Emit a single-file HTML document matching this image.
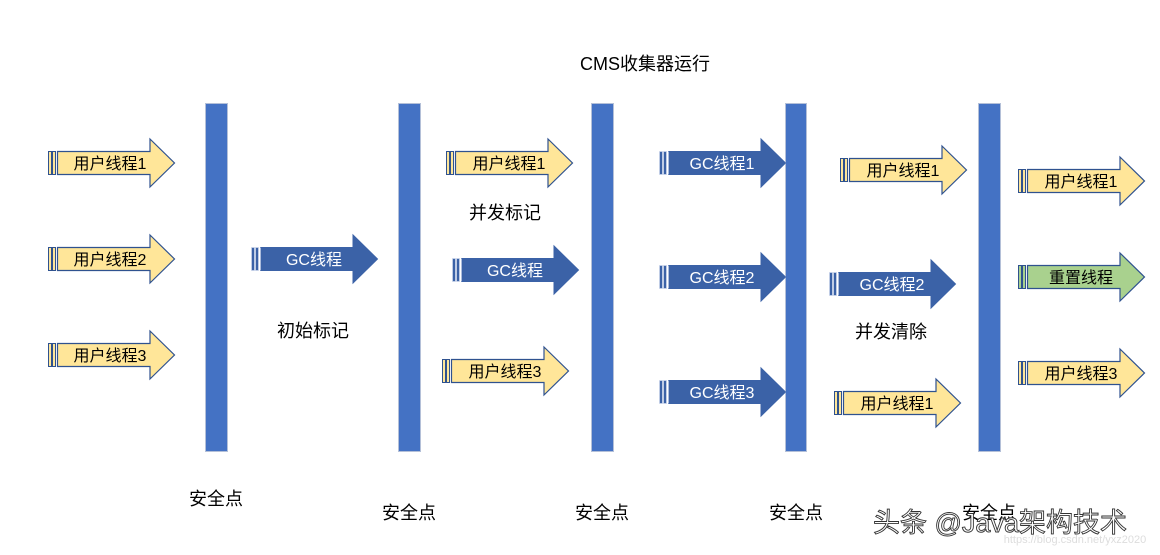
<!DOCTYPE html>
<html><head><meta charset="utf-8"><style>
html,body{margin:0;padding:0;background:#fff;width:1160px;height:555px;overflow:hidden}
svg text{font-family:"Liberation Sans","Noto Sans CJK SC",sans-serif}
</style></head><body>
<svg width="1160" height="555" viewBox="0 0 1160 555" xmlns="http://www.w3.org/2000/svg">
<defs>
<g id="y">
<rect x="0.5" y="-11.5" width="3" height="23" fill="#ffe699" stroke="#2f528f" stroke-width="1"/>
<rect x="4.5" y="-11.5" width="3" height="23" fill="#ffe699" stroke="#2f528f" stroke-width="1"/>
<polygon points="9.5,-11.5 102,-11.5 102,-24 126.5,0 102,24 102,11.5 9.5,11.5" fill="#ffe699" stroke="#2f528f" stroke-width="1.2"/>
</g>
<g id="b">
<rect x="0.5" y="-11.5" width="3" height="23" fill="#3b62a7" stroke="#c9d4ea" stroke-width="0.8"/>
<rect x="4.5" y="-11.5" width="3" height="23" fill="#3b62a7" stroke="#c9d4ea" stroke-width="0.8"/>
<polygon points="9.5,-11.5 102,-11.5 102,-24 126.5,0 102,24 102,11.5 9.5,11.5" fill="#3b62a7" stroke="#3b62a7" stroke-width="1"/>
<line x1="9.5" y1="-11.5" x2="9.5" y2="11.5" stroke="#c9d4ea" stroke-width="0.8"/>
</g>
<g id="g">
<rect x="0.5" y="-11.5" width="3" height="23" fill="#a9d18e" stroke="#2f528f" stroke-width="1"/>
<rect x="4.5" y="-11.5" width="3" height="23" fill="#a9d18e" stroke="#2f528f" stroke-width="1"/>
<polygon points="9.5,-11.5 102,-11.5 102,-24 126.5,0 102,24 102,11.5 9.5,11.5" fill="#a9d18e" stroke="#2f528f" stroke-width="1.2"/>
</g>
</defs>

<g fill="#4472c4" stroke="#b4c0d8" stroke-width="1">
<rect x="205.5" y="103.5" width="22" height="348"/>
<rect x="398.5" y="103.5" width="22" height="348"/>
<rect x="591.5" y="103.5" width="22" height="348"/>
<rect x="785.5" y="103.5" width="21" height="348"/>
<rect x="978.5" y="103.5" width="22" height="348"/>
</g>

<g font-size="16" text-anchor="middle">
<use href="#y" x="48" y="163"/><text x="110" y="169" fill="#000">用户线程1</text>
<use href="#y" x="48" y="259"/><text x="110" y="265" fill="#000">用户线程2</text>
<use href="#y" x="48" y="355"/><text x="110" y="361" fill="#000">用户线程3</text>

<use href="#b" x="251" y="259"/><text x="314" y="265" fill="#fff">GC线程</text>

<use href="#y" x="446" y="163"/><text x="509" y="169" fill="#000">用户线程1</text>
<use href="#b" x="452" y="270"/><text x="515" y="276" fill="#fff">GC线程</text>
<use href="#y" x="442" y="371"/><text x="505" y="377" fill="#000">用户线程3</text>

<use href="#b" x="659" y="163"/><text x="722" y="169" fill="#fff">GC线程1</text>
<use href="#b" x="659" y="277"/><text x="722" y="283" fill="#fff">GC线程2</text>
<use href="#b" x="659" y="392"/><text x="722" y="398" fill="#fff">GC线程3</text>

<use href="#y" x="840" y="170"/><text x="903" y="176" fill="#000">用户线程1</text>
<use href="#b" x="829" y="284"/><text x="892" y="290" fill="#fff">GC线程2</text>
<use href="#y" x="834" y="403"/><text x="897" y="409" fill="#000">用户线程1</text>

<use href="#y" x="1018" y="181"/><text x="1081" y="187" fill="#000">用户线程1</text>
<use href="#g" x="1018" y="277"/><text x="1081" y="283" fill="#000">重置线程</text>
<use href="#y" x="1018" y="373"/><text x="1081" y="379" fill="#000">用户线程3</text>
</g>

<g font-size="18" text-anchor="middle" fill="#000">
<text x="645" y="70">CMS收集器运行</text>
<text x="313" y="337">初始标记</text>
<text x="505" y="219">并发标记</text>
<text x="891" y="338">并发清除</text>
<text x="216" y="505">安全点</text>
<text x="409" y="519">安全点</text>
<text x="602" y="519">安全点</text>
<text x="796" y="519">安全点</text>
<text x="989" y="519">安全点</text>
</g>
<text x="1075" y="543" font-size="11" fill="#ddd" text-anchor="middle">https://blog.csdn.net/yxz2020</text>
<text x="1000" y="532" font-size="27" fill="#fff" stroke="#333" stroke-width="0.9" text-anchor="middle">头条 @Java架构技术</text>
</svg>
</body></html>
